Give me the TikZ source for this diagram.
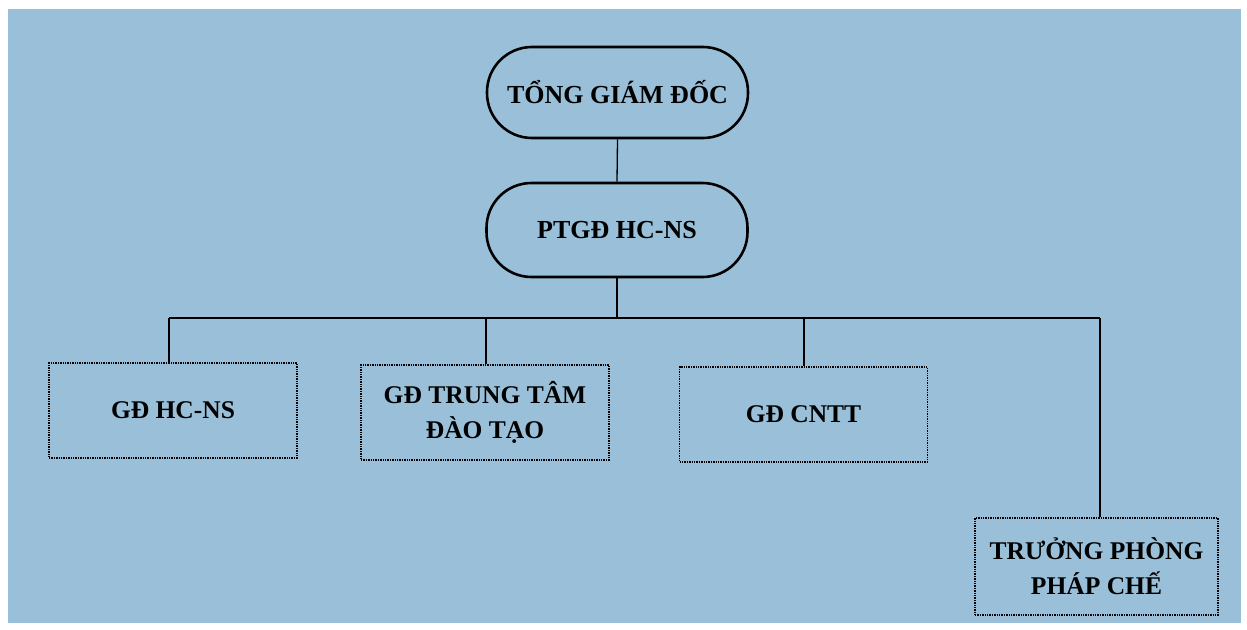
\documentclass[tikz,border=0pt]{standalone}
\usepackage{fontspec}
\setmainfont{Liberation Serif}
\definecolor{bgblue}{RGB}{154,192,217}
\tikzset{
  pill/.style={draw=black, line width=2.6pt, rounded corners=45pt, minimum width=261pt, inner sep=0pt, font=\fontsize{26}{30}\selectfont\bfseries, align=center},
  unitbox/.style={draw=black, line width=1.4pt, densely dotted, minimum width=248pt, minimum height=95pt, inner sep=0pt, font=\fontsize{25.5}{35}\selectfont\bfseries, align=center},
  link/.style={draw=black, line width=1.3pt}
}
\begin{document}
\begin{tikzpicture}[x=1pt,y=-1pt]
\useasboundingbox (0,0) rectangle (1247,629);
\fill[white] (0,0) rectangle (1247,629);
\fill[bgblue] (8,9) rectangle (1241,623);
\node[pill, minimum height=91pt] (ceo) at (617.5,92.5) {TỔNG GIÁM ĐỐC};
\node[pill, minimum height=94pt] (vp) at (617,230) {PTGĐ HC-NS};
\node[unitbox] (b1) at (173,410.5) {GĐ HC-NS};
\node[unitbox] (b2) at (485,412.5) {\raisebox{-3pt}{GĐ TRUNG TÂM}\\\raisebox{-3pt}{ĐÀO TẠO}};
\node[unitbox] (b3) at (803.5,414.5) {GĐ CNTT};
\node[unitbox, minimum width=243pt, minimum height=97pt] (b4) at (1096.5,566.5) {TRƯỞNG PHÒNG\\PHÁP CHẾ};
\coordinate (bus) at (617,318);
\draw[link] (ceo.south) -- (vp.north);
\draw[link] (vp.south) -- (bus);
\draw[link] (169,318) -- (1100,318);
\draw[link] (169,318) -- (b1.north -| 169,0);
\draw[link] (486,318) -- (b2.north -| 486,0);
\draw[link] (804,318) -- (b3.north -| 804,0);
\draw[link] (1100,318) -- (b4.north -| 1100,0);
\end{tikzpicture}
\end{document}
